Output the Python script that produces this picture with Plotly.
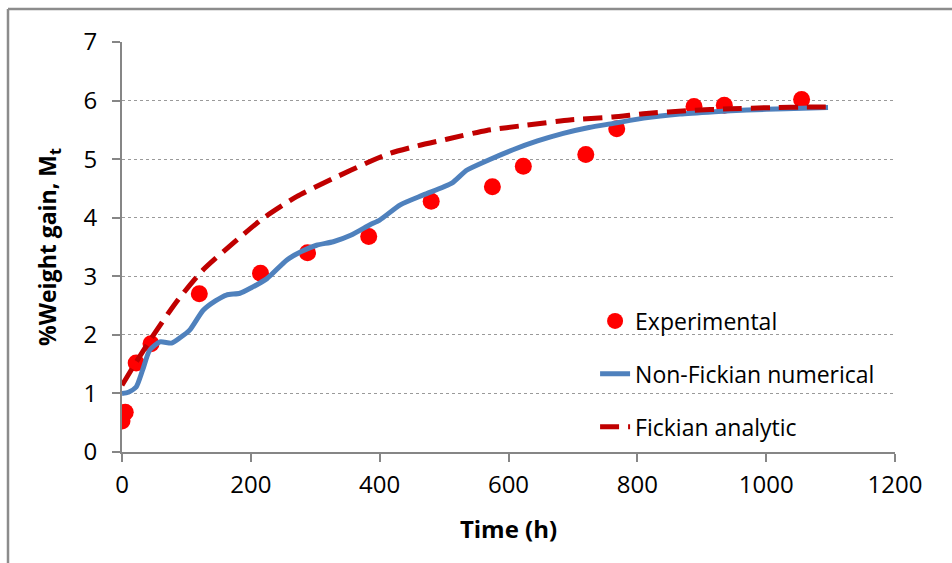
import plotly.graph_objects as go

# Experimental data
exp_t = [0, 5, 22, 45, 120, 215, 288, 383, 480, 575, 623, 720, 768, 888, 935, 1055]
exp_m = [0.53, 0.68, 1.52, 1.85, 2.70, 3.05, 3.40, 3.68, 4.28, 4.53, 4.88, 5.08, 5.52, 5.90, 5.92, 6.02]

# Non-Fickian numerical curve
nf_t = [0, 10, 22, 32, 43, 59, 77, 90, 105, 126, 145, 162, 183, 200, 225, 256, 280, 302, 328, 355, 385, 400,
        432, 468, 512, 535, 570, 607, 645, 685, 725, 763, 810, 866, 920, 970, 1030, 1096]
nf_m = [1.00, 1.02, 1.11, 1.40, 1.74, 1.88, 1.86, 1.95, 2.08, 2.42, 2.58, 2.68, 2.71, 2.80, 2.96, 3.28, 3.43, 3.53, 3.59, 3.70, 3.88, 3.96,
        4.22, 4.39, 4.59, 4.81, 4.99, 5.16, 5.31, 5.44, 5.54, 5.61, 5.70, 5.77, 5.81, 5.84, 5.86, 5.88]

# Fickian analytic curve
fa_t = [0, 20, 49, 85, 126, 173, 219, 271, 328, 385, 416, 460, 504, 566, 628, 695, 762, 814, 882, 944, 1010, 1068, 1096]
fa_m = [1.14, 1.50, 2.00, 2.57, 3.11, 3.57, 3.99, 4.36, 4.67, 4.96, 5.10, 5.23, 5.34, 5.49, 5.58, 5.67, 5.72, 5.78, 5.83, 5.86, 5.88, 5.89, 5.89]

x_ticks = [0, 200, 400, 600, 800, 1000, 1200]
y_ticks = [0, 1, 2, 3, 4, 5, 6, 7]

FONT = "Open Sans"

fig = go.Figure()
fig.add_trace(go.Scatter(x=exp_t, y=exp_m, mode="markers", name="Experimental",
                         marker=dict(color="#FF0000", size=17), legendgroup="a"))
fig.add_trace(go.Scatter(x=nf_t, y=nf_m, mode="lines", name="Non-Fickian numerical",
                         line=dict(color="#4F81BD", width=5, shape="spline", smoothing=0.6), legendgroup="b"))
fig.add_trace(go.Scatter(x=fa_t, y=fa_m, mode="lines", name="Fickian analytic",
                         line=dict(color="#C00000", width=5, dash="19px,9px", shape="spline", smoothing=0.6), legendgroup="c"))

axis_common = dict(showline=True, linecolor="#868686", linewidth=2, ticks="outside", ticklen=8,
                   tickcolor="#868686", tickwidth=2, tickfont=dict(family=FONT, size=24, color="#000000"),
                   zeroline=False)

fig.update_xaxes(range=[0, 1200], tickvals=x_ticks, showgrid=False, **axis_common, ticklabelstandoff=2,
                 title=dict(text="<b>Time (h)</b>", font=dict(family=FONT, size=24, color="#000000"), standoff=22))
fig.update_yaxes(range=[0, 7], tickvals=y_ticks, showgrid=True, gridcolor="#9A9A9A", griddash="dot", gridwidth=1,
                 **axis_common, ticklabelstandoff=10,
                 title=dict(text="<b>%Weight gain, M<sub>t</sub></b>", font=dict(family=FONT, size=23, color="#000000"), standoff=20))

border = dict(color="#8C8C8C", width=2.5)
top_y = 1.0 + 33.0 / 410.0
left_x = -114.0 / 773.0
fig.update_layout(
    width=952, height=563,
    margin=dict(l=122, r=57, t=42, b=111),
    paper_bgcolor="white", plot_bgcolor="white",
    font=dict(family=FONT, color="#000000"),
    legend=dict(x=0.612, y=0.372, xanchor="left", yanchor="top", bgcolor="rgba(0,0,0,0)",
                font=dict(family=FONT, size=23, color="#000000"), tracegroupgap=20, traceorder="grouped"),
    shapes=[
        dict(type="line", xref="paper", yref="paper", x0=left_x, x1=1.1, y0=top_y, y1=top_y,
             line=border, layer="above"),
        dict(type="line", xref="paper", yref="paper", x0=left_x, x1=left_x, y0=top_y, y1=-0.3,
             line=border, layer="above"),
    ],
)

fig.write_html("out.html", config={"displayModeBar": False},
               post_script="document.body.style.margin='0px';")
